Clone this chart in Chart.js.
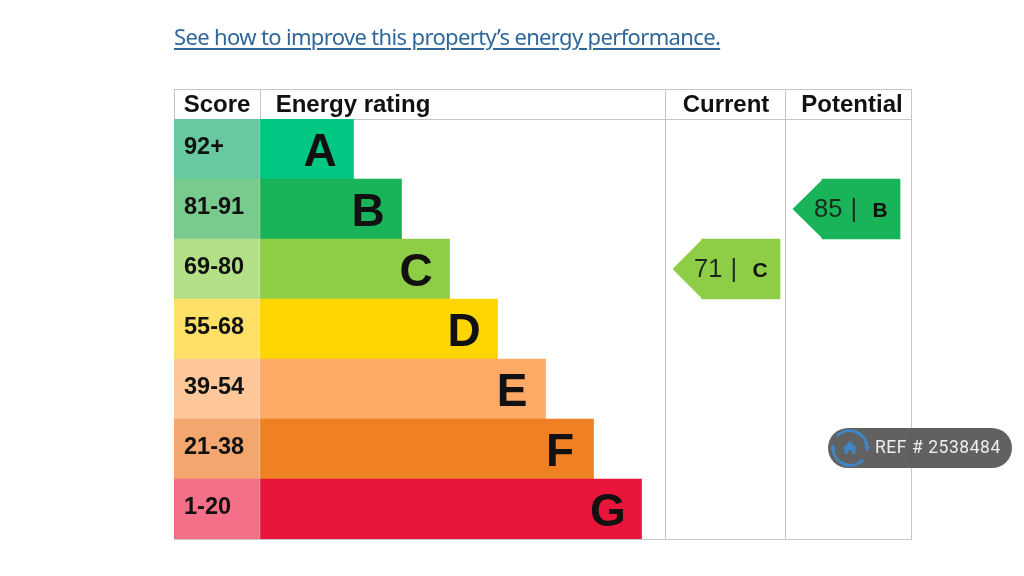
<!DOCTYPE html>
<html><head><meta charset="utf-8">
<style>
html,body{margin:0;padding:0;background:#fff;width:1024px;height:576px;overflow:hidden}
canvas{position:absolute;left:0;top:0}
#link{position:absolute;left:174px;top:20px;font:22px/32px "Noto Sans",sans-serif;color:#30679a;text-decoration:underline;text-decoration-thickness:1.5px;text-underline-offset:3px;white-space:nowrap;letter-spacing:-.65px}
#ref{position:absolute;left:828px;top:428px;width:184px;height:40px;border-radius:20px;background:rgba(88,88,88,.95);color:#eee;font:17.5px/38px Roboto,sans-serif;letter-spacing:.55px}
#ref span{position:absolute;left:47px;top:0;white-space:nowrap}
#ref svg{position:absolute;left:0;top:0}
</style>
<script src="https://cdn.jsdelivr.net/npm/chart.js@4/dist/chart.umd.min.js"></script>
</head><body>
<canvas id="c" width="1024" height="576"></canvas>
<div id="link">See how to improve this property’s energy performance.</div>
<div id="ref"><svg width="44" height="40" viewBox="0 0 44 40"><path d="M39 19A17.500 17.500 0 0 0 9 8M5 21a17.500 17.500 0 0 0 30 11" fill="none" stroke="#3f86c6" stroke-width="3"/><path d="M36 19h6l-3 5zM2 21h6l-3-5z" fill="#3f86c6"/><path d="M22 13l7.500 7.500h-2v5.500h-3.500v-3.500h-4v3.500h-3.500v-5.500h-2z" fill="#3f86c6"/></svg><span>REF # 2538484</span></div>
<script>
const bands = ['A','B','C','D','E','F','G'];
const scoreRanges = ['92+','81-91','69-80','55-68','39-54','21-38','1-20'];
const ratingLengths = [93.5,141.5,189.5,237.5,285.5,333.5,381.5];
const headers = ['Score','Energy rating','Current','Potential'];
const currentScore = 71, currentBand = 'C';
const potentialScore = 85, potentialBand = 'B';

const bandColors = ['#00c781','#19b459','#8dce46','#ffd500','#fcaa65','#ef8023','#e9153b'];
const scoreColors = ['#68c9a0','#78cb8d','#b3e086','#ffe066','#fdc79a','#f3a76f','#f47088'];
const SCORE_W = 86, TOTAL = 652;
const columnEdges = [-SCORE_W,0,405,525,651];
const headerCenters = [-43,93,466,592];
const currentTag = {tip:412.5, from:441.5, to:520};
const potentialTag = {tip:532.5, from:562, to:640};
const GRID = '#c6c6c6';

const tagRow = (band,t)=>bands.map(b=>b===band?[t.from,t.to]:null);

const tablePlugin = {
  id:'table',
  beforeDatasetsDraw(chart){
    const {ctx,chartArea:a,scales:{x}} = chart;
    const top = a.top-30;
    ctx.save(); ctx.strokeStyle=GRID; ctx.lineWidth=1;
    ctx.beginPath();
    columnEdges.forEach(v=>{const p=Math.round(x.getPixelForValue(v))+.5;ctx.moveTo(p,top);ctx.lineTo(p,a.top);});
    [top,a.top,a.bottom].forEach(y=>{ctx.moveTo(a.left,y+.5);ctx.lineTo(a.right,y+.5);});
    ctx.stroke(); ctx.restore();
  },
  afterDatasetsDraw(chart){
    const {ctx,scales:{x}} = chart;
    const rating = chart.getDatasetMeta(1).data;
    ctx.save();
    ctx.fillStyle='#111'; ctx.textAlign='center'; ctx.textBaseline='alphabetic';
    ctx.font='bold 46px "Liberation Sans",Arial,sans-serif';
    rating.forEach((b,i)=>ctx.fillText(bands[i],b.x-33.5,b.y+16.5));
    const drawTag=(metaIdx,band,score,t)=>{
      const i=bands.indexOf(band), b=chart.getDatasetMeta(metaIdx).data[i];
      const h=b.height/2-.5, s=x.getPixelForValue(t.from), tip=x.getPixelForValue(t.tip);
      ctx.fillStyle=bandColors[i];
      ctx.beginPath();ctx.moveTo(s+.5,b.y-h);ctx.lineTo(tip,b.y);ctx.lineTo(s+.5,b.y+h);ctx.closePath();ctx.fill();
      ctx.fillStyle='#1c2a1c'; ctx.textAlign='left';
      ctx.font='25.5px "Liberation Sans",Arial,sans-serif';
      ctx.fillText(String(score),tip+21.5,b.y+8);
      ctx.fillText('|',tip+58,b.y+8);
      ctx.fillStyle='#111'; ctx.font='bold 21px "Liberation Sans",Arial,sans-serif';
      ctx.fillText(band,tip+80,b.y+8);
    };
    drawTag(2,currentBand,currentScore,currentTag);
    drawTag(3,potentialBand,potentialScore,potentialTag);
    ctx.restore();
  }
};

new Chart(document.getElementById('c'),{
  type:'bar',
  data:{labels:scoreRanges,datasets:[
    {label:'Score',data:bands.map(()=>[-SCORE_W,0]),backgroundColor:scoreColors},
    {label:'Energy rating',data:ratingLengths,backgroundColor:bandColors},
    {label:'Current',data:tagRow(currentBand,currentTag),backgroundColor:bandColors},
    {label:'Potential',data:tagRow(potentialBand,potentialTag),backgroundColor:bandColors}
  ]},
  options:{
    indexAxis:'y',responsive:false,animation:false,devicePixelRatio:1,
    layout:{padding:{left:174,right:112,top:89,bottom:37}},
    datasets:{bar:{grouped:false,barPercentage:1,categoryPercentage:1,borderWidth:0}},
    plugins:{legend:{display:false},tooltip:{enabled:false},title:{display:false}},
    scales:{
      x:{type:'linear',min:-SCORE_W,max:TOTAL,position:'bottom',
        grid:{color:GRID,drawTicks:false},border:{display:false},
        afterBuildTicks:s=>{s.ticks=columnEdges.map(value=>({value}));},
        ticks:{display:false},afterFit:s=>{s.height=0;}},
      head:{type:'linear',axis:'x',min:-SCORE_W,max:TOTAL,position:'top',
        grid:{display:false,drawTicks:false},border:{display:false},
        afterBuildTicks:s=>{s.ticks=headerCenters.map(value=>({value}));},
        ticks:{autoSkip:false,maxRotation:0,padding:-1,color:'#111',font:{family:'"Liberation Sans",Arial,sans-serif',size:24,weight:'bold'},
          callback:(v)=>headers[headerCenters.indexOf(v)]},
        afterFit:s=>{s.height=30;}},
      y:{type:'category',position:'left',
        grid:{display:false},border:{display:false},
        ticks:{mirror:true,z:1,padding:10,labelOffset:-1,autoSkip:false,color:'#111',
          font:{family:'"Liberation Sans",Arial,sans-serif',size:23.5,weight:'bold'}},
        afterFit:s=>{s.width=0;}}
    }
  },
  plugins:[tablePlugin]
});
</script>
</body></html>
